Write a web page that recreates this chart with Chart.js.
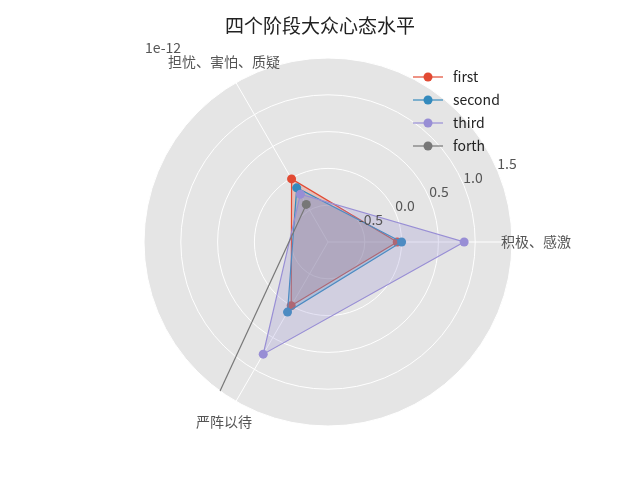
<!DOCTYPE html>
<html><head><meta charset="utf-8">
<script src="https://cdn.jsdelivr.net/npm/chart.js@4"></script>
<style>html,body{margin:0;padding:0;background:#fff} #c{display:block}</style>
</head><body>
<canvas id="c" width="640" height="480"></canvas>
<script>
// ---- data (values in units of 1e-12) ----
const categories = ['积极、感激', '严阵以待', '担忧、害怕、质疑'];
const seriesNames = ['first', 'second', 'third', 'forth'];
const first  = [-0.06, 0.0, -0.01];
const second = [0.0, 0.1, -0.15];
const third  = [0.85, 0.76, -0.25];
const forth  = [null, 4.33, -0.41];
const radialTicks = [-0.5, 0.0, 0.5, 1.0, 1.5];
const tickLabels = ['-0.5', '0.0', '0.5', '1.0', '1.5'];
const offsetText = '1e-12';
const titleText = '四个阶段大众心态水平';

const colors = ['#E24A33', '#348ABD', '#988ED5', '#777777'];
const fills = ['rgba(226,74,51,0.25)', 'rgba(52,138,189,0.25)', 'rgba(152,142,213,0.25)', 'rgba(119,119,119,0.25)'];
const FONT = '"Noto Sans CJK SC", "Noto Sans", sans-serif';
const seriesData = [first, second, third, forth];

const deco = {
  id: 'deco',
  beforeDraw(chart) {
    const s = chart.scales.r, ctx = chart.ctx;
    ctx.save();
    ctx.fillStyle = '#E5E5E5';
    ctx.beginPath();
    ctx.arc(s.xCenter, s.yCenter, s.drawingArea, 0, Math.PI * 2);
    ctx.fill();
    ctx.restore();
  },
  beforeDatasetsDraw(chart) {
    const s = chart.scales.r, ctx = chart.ctx;
    ctx.save();
    ctx.beginPath();
    ctx.arc(s.xCenter, s.yCenter, s.drawingArea, 0, Math.PI * 2);
    ctx.clip();
  },
  afterDatasetsDraw(chart) {
    const s = chart.scales.r, ctx = chart.ctx;
    ctx.restore();
    ctx.save();
    // radial tick labels along 22.5 degrees
    ctx.font = '14px ' + FONT;
    ctx.fillStyle = '#555555';
    ctx.textAlign = 'center';
    ctx.textBaseline = 'middle';
    const a = 22.5 * Math.PI / 180;
    radialTicks.forEach((v, i) => {
      const d = s.getDistanceFromCenterForValue(v);
      ctx.fillText(tickLabels[i], s.xCenter + d * Math.cos(a) + 9, s.yCenter - d * Math.sin(a) - 8);
    });
    // category labels
    categories.forEach((c, i) => {
      const p = s.getPointPosition(i, s.drawingArea + 24);
      ctx.fillText(c, p.x, p.y);
    });
    // offset text
    ctx.textAlign = 'left';
    ctx.fillText(offsetText, 145, 48);
    ctx.restore();
  },
  afterDraw(chart) {
    const ctx = chart.ctx;
    ctx.save();
    ctx.font = '14px ' + FONT;
    ctx.textAlign = 'left';
    ctx.textBaseline = 'middle';
    seriesNames.forEach((n, i) => {
      const y = 77 + i * 23;
      ctx.strokeStyle = colors[i];
      ctx.lineWidth = 1.2;
      ctx.beginPath(); ctx.moveTo(413, y); ctx.lineTo(443, y); ctx.stroke();
      ctx.fillStyle = colors[i];
      ctx.beginPath(); ctx.arc(428, y, 4.5, 0, Math.PI * 2); ctx.fill();
      ctx.fillStyle = '#222222';
      ctx.fillText(n, 453, y);
    });
    ctx.restore();
  }
};

const datasets = seriesNames.map((n, i) => ({
  label: n,
  data: seriesData[i],
  borderColor: colors[i],
  backgroundColor: fills[i],
  pointBackgroundColor: colors[i],
  pointBorderColor: colors[i],
  pointBorderWidth: 0,
  pointRadius: 4.5,
  borderWidth: 1.2,
  fill: n === 'forth' ? false : 'start',
  order: seriesNames.length - 1 - i,
  tension: 0
}));

new Chart(document.getElementById('c'), {
  type: 'radar',
  data: { labels: categories, datasets },
  options: {
    responsive: false,
    animation: false,
    events: [],
    devicePixelRatio: 1,
    layout: { padding: 0 },
    plugins: {
      legend: { display: false },
      tooltip: { enabled: false },
      title: {
        display: true, text: titleText, color: '#222222',
        font: { family: FONT, size: 19, weight: 'normal' },
        padding: { top: 14, bottom: 8 }
      }
    },
    scales: {
      r: {
        min: -1, max: 1.5,
        startAngle: 90,
        beginAtZero: false,
        ticks: { display: false, stepSize: 0.5 },
        pointLabels: { display: false },
        grid: { circular: true, color: '#FFFFFF', lineWidth: 1 },
        angleLines: { display: true, color: '#FFFFFF', lineWidth: 1 },
        afterFit(scale) {
          scale.xCenter = 328;
          scale.yCenter = 242;
          scale.drawingArea = 184;
        }
      }
    }
  },
  plugins: [deco]
});
</script>
</body></html>
